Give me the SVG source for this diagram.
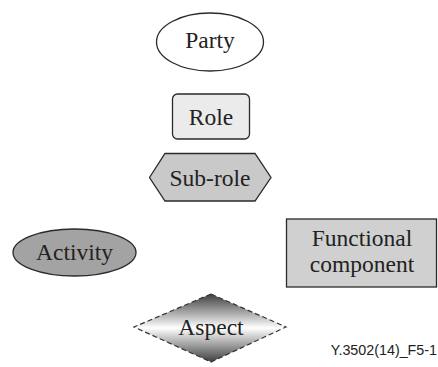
<svg xmlns="http://www.w3.org/2000/svg" width="438" height="367" viewBox="0 0 438 367">
<defs>
<style>
.lbl{font-family:"Liberation Serif","Times New Roman",serif;font-size:23.5px;fill:#222;text-anchor:middle}
.shape{stroke:#2a2a2a;stroke-width:1.3}
.code{font-family:"Liberation Sans",Arial,sans-serif;font-size:14.3px;fill:#222;text-anchor:end}
</style>
<linearGradient id="aspGrad" x1="0" y1="0" x2="0" y2="1">
<stop offset="0" stop-color="#3e3e3e"/>
<stop offset="0.5" stop-color="#ffffff"/>
<stop offset="1" stop-color="#3e3e3e"/>
</linearGradient>
</defs>
<rect width="438" height="367" fill="#ffffff"/>
<g id="connectors"></g>
<g id="party">
<ellipse class="shape" cx="210" cy="42" rx="53.5" ry="29" fill="#ffffff"/>
<text class="lbl" x="210" y="47.5">Party</text>
</g>
<g id="role">
<rect class="shape" x="172.5" y="94" width="77" height="45" rx="5" fill="#ebebeb"/>
<text class="lbl" x="211" y="124.5">Role</text>
</g>
<g id="subrole">
<polygon class="shape" points="149.5,177.5 165,153.5 255,153.5 271,177.5 255,201 165,201" fill="#c9c9c9"/>
<text class="lbl" x="210" y="185.5">Sub-role</text>
</g>
<g id="activity">
<ellipse class="shape" cx="74.5" cy="252.5" rx="61.5" ry="23.5" fill="#a3a3a3"/>
<text class="lbl" x="74.5" y="260">Activity</text>
</g>
<g id="functional">
<rect class="shape" x="286.5" y="219" width="150" height="68" fill="#d0d0d0"/>
<text class="lbl" x="362" y="245.5">Functional</text>
<text class="lbl" x="362" y="271.5">component</text>
</g>
<g id="aspect">
<polygon points="211,294 286,327 211,362 134,327" fill="url(#aspGrad)" stroke="#333" stroke-width="1.2" stroke-dasharray="5,3"/>
<text class="lbl" x="211" y="335">Aspect</text>
</g>
<text class="code" x="437" y="355">Y.3502(14)_F5-1</text>
</svg>
